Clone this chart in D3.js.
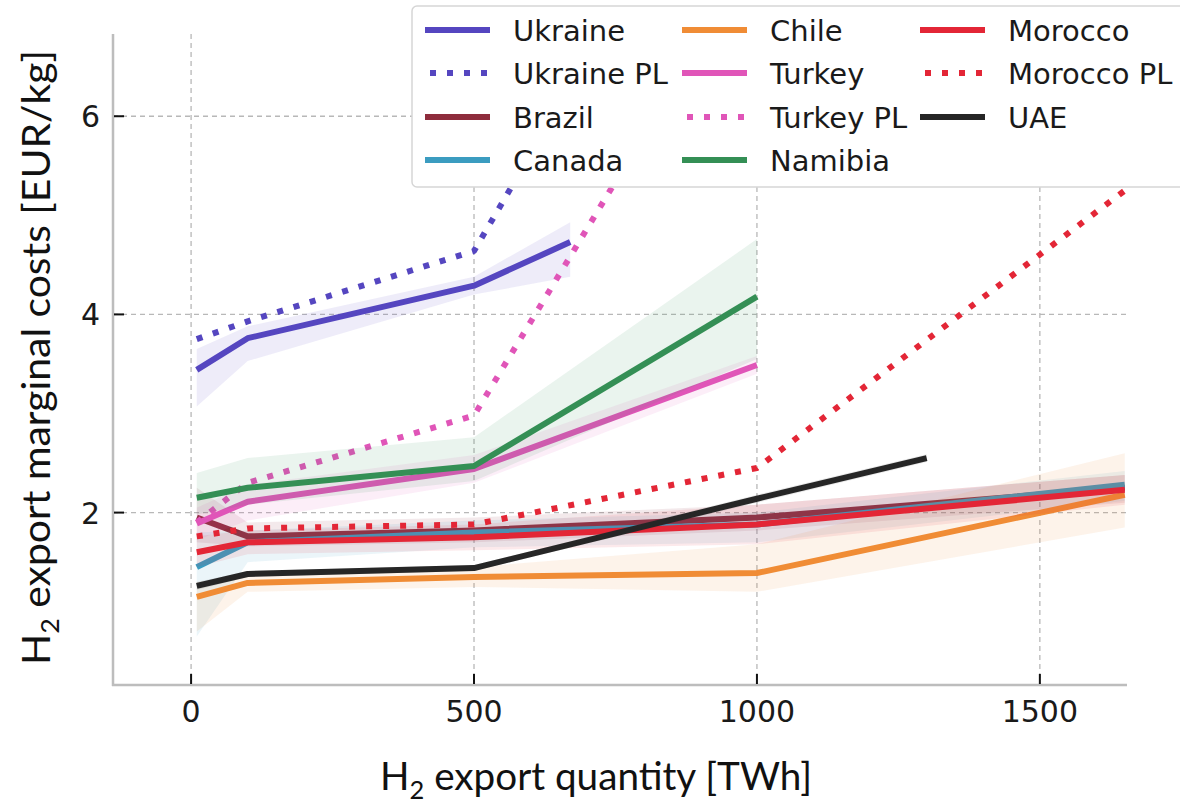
<!DOCTYPE html>
<meta charset="utf-8">
<style>
body { margin: 0; background: #fff; }
.grid line { stroke: #b8b8b8; stroke-width: 1.3; stroke-dasharray: 5,4; }
.tick-label { font-family: "DejaVu Sans"; font-size: 30px; fill: #1a1a1a; }
.axis-title { font-family: Lato, "Open Sans", sans-serif; font-size: 38px; fill: #111; }
.legend text { font-family: "DejaVu Sans"; font-size: 29px; fill: #1a1a1a; }
</style>
<svg id="chart" width="1180" height="803"></svg>
<script src="https://cdnjs.cloudflare.com/ajax/libs/d3/7.8.5/d3.min.js"></script>
<script>

// tick values
var xTicks = [0, 500, 1000, 1500];
var yTicks = [2, 4, 6];

// export quantity [TWh] -> marginal cost [EUR/kg], with shaded range (lo / hi)
var ukraine    = {q: [10, 100, 500, 670], v: [3.44, 3.76, 4.29, 4.73], lo: [3.07, 3.53, 4.20, 4.38], hi: [3.65, 3.88, 4.38, 4.93]};
var ukrainePL  = {q: [10, 100, 500, 670], v: [3.75, 3.93, 4.64, 6.30]};
var brazil     = {q: [10, 100, 500, 1000, 1650], v: [1.95, 1.76, 1.82, 1.95, 2.25], lo: [1.70, 1.66, 1.70, 1.82, 2.10], hi: [2.25, 1.90, 1.95, 2.08, 2.38]};
var canada     = {q: [10, 100, 500, 1000, 1650], v: [1.45, 1.70, 1.80, 1.88, 2.28], lo: [0.75, 1.50, 1.65, 1.70, 2.12], hi: [1.80, 1.82, 1.92, 2.00, 2.42]};
var chile      = {q: [10, 100, 500, 1000, 1650], v: [1.15, 1.29, 1.35, 1.39, 2.18], lo: [0.80, 1.20, 1.25, 1.20, 1.85], hi: [1.30, 1.35, 1.45, 1.68, 2.60]};
var turkey     = {q: [10, 100, 500, 1000], v: [1.89, 2.11, 2.44, 3.49], lo: [1.72, 1.92, 2.30, 3.40], hi: [2.05, 2.28, 2.58, 3.58]};
var turkeyPL   = {q: [10, 100, 500, 1000], v: [1.90, 2.30, 2.98, 7.70]};
var namibia    = {q: [10, 100, 500, 1000], v: [2.15, 2.25, 2.47, 4.18], lo: [1.98, 2.08, 2.32, 3.55], hi: [2.40, 2.55, 2.76, 4.76]};
var morocco    = {q: [10, 100, 500, 1000, 1650], v: [1.60, 1.70, 1.75, 1.88, 2.23], lo: [1.45, 1.58, 1.62, 1.68, 2.08], hi: [1.76, 1.82, 1.88, 2.08, 2.38]};
var moroccoPL  = {q: [10, 100, 500, 1000, 1650], v: [1.76, 1.84, 1.88, 2.45, 5.25]};
var uae        = {q: [10, 100, 500, 1000, 1300], v: [1.26, 1.38, 1.44, 2.14, 2.55], lo: [1.22, 1.35, 1.41, 2.10, 2.51], hi: [1.30, 1.41, 1.47, 2.18, 2.59]};

var series = [
  {name: "Ukraine",     color: "#5546c0", dotted: false, d: ukraine},
  {name: "Ukraine PL",  color: "#5546c0", dotted: true,  d: ukrainePL},
  {name: "Brazil",      color: "#8e2c3c", dotted: false, d: brazil},
  {name: "Canada",      color: "#3b9cc0", dotted: false, d: canada},
  {name: "Chile",       color: "#f08c35", dotted: false, d: chile},
  {name: "Turkey",      color: "#e055b8", dotted: false, d: turkey},
  {name: "Turkey PL",   color: "#e055b8", dotted: true,  d: turkeyPL},
  {name: "Namibia",     color: "#348f55", dotted: false, d: namibia},
  {name: "Morocco",     color: "#e32636", dotted: false, d: morocco},
  {name: "Morocco PL",  color: "#e32636", dotted: true,  d: moroccoPL},
  {name: "UAE",         color: "#262626", dotted: false, d: uae}
];

var pLeft = 113, pRight = 1127, pTop = 34, pBottom = 685;

var x = d3.scaleLinear().domain([-138, 1654]).range([pLeft, pRight]);
var y = d3.scaleLinear().domain([0.26, 6.83]).range([pBottom, pTop]);

var svg = d3.select("#chart");

svg.append("defs").append("clipPath")
    .attr("id", "plot-area")
  .append("rect")
    .attr("x", pLeft)
    .attr("y", pTop)
    .attr("width", pRight - pLeft)
    .attr("height", pBottom - pTop);

// grid
var grid = svg.append("g").attr("class", "grid");
grid.selectAll(".gx")
    .data(xTicks)
    .enter()
    .append("line")
    .attr("x1", function(d) { return x(d); })
    .attr("x2", function(d) { return x(d); })
    .attr("y1", pTop)
    .attr("y2", pBottom);
grid.selectAll(".gy")
    .data(yTicks)
    .enter()
    .append("line")
    .attr("x1", pLeft)
    .attr("x2", pRight)
    .attr("y1", function(d) { return y(d); })
    .attr("y2", function(d) { return y(d); });

// bands and lines
var plot = svg.append("g").attr("clip-path", "url(#plot-area)");

var area = d3.area()
    .x(function(d) { return x(d.q); })
    .y0(function(d) { return y(d.lo); })
    .y1(function(d) { return y(d.hi); });

var line = d3.line()
    .x(function(d) { return x(d.q); })
    .y(function(d) { return y(d.v); });

series.forEach(function(s) {
  var pts = s.d.q.map(function(q, i) {
    return {q: q, v: s.d.v[i], lo: s.d.lo ? s.d.lo[i] : null, hi: s.d.hi ? s.d.hi[i] : null};
  });
  if (s.d.lo) {
    plot.append("path")
        .datum(pts)
        .attr("d", area)
        .attr("fill", s.color)
        .attr("fill-opacity", 0.1);
  }
  plot.append("path")
      .datum(pts)
      .attr("d", line)
      .attr("fill", "none")
      .attr("stroke", s.color)
      .attr("stroke-width", 6)
      .attr("stroke-linejoin", "round")
      .attr("stroke-dasharray", s.dotted ? "6,11" : null);
});

// spines
svg.append("line")
    .attr("x1", pLeft).attr("x2", pLeft)
    .attr("y1", pTop).attr("y2", pBottom + 1)
    .attr("stroke", "#bdbdbd").attr("stroke-width", 2.5);
svg.append("line")
    .attr("x1", pLeft - 1).attr("x2", pRight)
    .attr("y1", pBottom).attr("y2", pBottom)
    .attr("stroke", "#bdbdbd").attr("stroke-width", 2.5);

// ticks (inward) and labels
svg.append("g").selectAll("line")
    .data(yTicks)
    .enter()
    .append("line")
    .attr("x1", pLeft + 1).attr("x2", pLeft + 11)
    .attr("y1", function(d) { return y(d); })
    .attr("y2", function(d) { return y(d); })
    .attr("stroke", "#111").attr("stroke-width", 2);
svg.append("g").selectAll("text")
    .data(yTicks)
    .enter()
    .append("text")
    .attr("class", "tick-label")
    .attr("x", 100)
    .attr("y", function(d) { return y(d) + 11; })
    .style("text-anchor", "end")
    .text(function(d) { return d; });

svg.append("g").selectAll("line")
    .data(xTicks)
    .enter()
    .append("line")
    .attr("x1", function(d) { return x(d); })
    .attr("x2", function(d) { return x(d); })
    .attr("y1", pBottom - 1).attr("y2", pBottom - 11)
    .attr("stroke", "#111").attr("stroke-width", 2);
svg.append("g").selectAll("text")
    .data(xTicks)
    .enter()
    .append("text")
    .attr("class", "tick-label")
    .attr("x", function(d) { return x(d); })
    .attr("y", 722)
    .style("text-anchor", "middle")
    .text(function(d) { return d; });

// axis titles
function h2Title(sel, rest) {
  sel.append("tspan").text("H");
  sel.append("tspan").attr("dy", 9).attr("font-size", "25px").text("2");
  sel.append("tspan").attr("dy", -9).text(rest);
}

var xt = svg.append("text")
    .attr("class", "axis-title")
    .attr("x", 380)
    .attr("y", 790)
    .attr("textLength", 432)
    .attr("lengthAdjust", "spacingAndGlyphs");
h2Title(xt, " export quantity [TWh]");

var yt = svg.append("text")
    .attr("class", "axis-title")
    .attr("transform", "translate(50,665) rotate(-90)")
    .attr("x", 0)
    .attr("y", 0)
    .attr("textLength", 615)
    .attr("lengthAdjust", "spacingAndGlyphs");
h2Title(yt, " export marginal costs [EUR/kg]");

// legend
var legend = svg.append("g").attr("class", "legend");
legend.append("rect")
    .attr("x", 412).attr("y", 6)
    .attr("width", 800).attr("height", 181)
    .attr("rx", 5)
    .attr("fill", "#fff")
    .attr("stroke", "#d6d6d6").attr("stroke-width", 1.5);

var colX = [425, 682, 920];
var rowY = [30, 73, 117, 160];

var items = legend.selectAll(".item")
    .data(series)
    .enter()
    .append("g")
    .attr("transform", function(d, i) {
      var c = i < 4 ? 0 : (i < 8 ? 1 : 2);
      var r = c === 0 ? i : (c === 1 ? i - 4 : i - 8);
      return "translate(" + colX[c] + "," + rowY[r] + ")";
    });

items.append("line")
    .attr("x1", 0).attr("x2", 65)
    .attr("y1", 0).attr("y2", 0)
    .attr("stroke", function(d) { return d.color; })
    .attr("stroke-width", 6)
    .attr("stroke-dasharray", function(d) { return d.dotted ? "6,11" : null; })
    .attr("stroke-dashoffset", function(d) { return d.dotted ? -5 : null; });

items.append("text")
    .attr("x", 88)
    .attr("y", 11)
    .text(function(d) { return d.name; });

</script>
